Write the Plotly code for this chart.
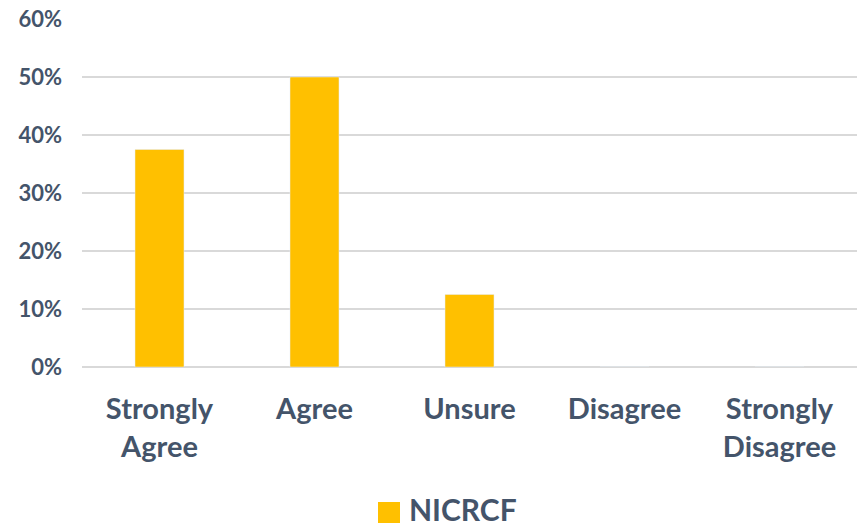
import plotly.graph_objects as go

categories = ["Strongly<br>Agree", "Agree", "Unsure", "Disagree", "Strongly<br>Disagree"]
values = [0.375, 0.50, 0.125, 0.0, 0.0]
series_name = "NICRCF"
y_ticks = [0, 0.1, 0.2, 0.3, 0.4, 0.5, 0.6]

text_color = "#44546A"
bar_color = "#FFC000"
font_family = "Lato, 'Open Sans', sans-serif"

fig = go.Figure()
fig.add_trace(go.Bar(x=categories, y=values, marker_color=bar_color,
                     name=series_name, showlegend=False, hoverinfo="x+y"))

# legend drawn as a square key + label below the plot
fig.add_shape(type="rect", xref="paper", yref="paper",
              x0=(378 - 82) / 775, x1=(400 - 82) / 775,
              y0=(367 - 523) / 348, y1=(367 - 502) / 348,
              fillcolor=bar_color, line=dict(width=0))
fig.add_annotation(text="<b>" + series_name + "</b>", xref="paper", yref="paper",
                   x=(407 - 82) / 775, xanchor="left",
                   y=(367 - 509) / 348, yanchor="middle", showarrow=False,
                   font=dict(size=30, family=font_family, color=text_color))

fig.update_layout(
    width=860, height=528,
    margin=dict(l=82, r=3, t=19, b=161),
    plot_bgcolor="white", paper_bgcolor="white",
    bargap=0.684,
    font=dict(family=font_family, color=text_color),
    showlegend=False,
)
fig.update_xaxes(
    showgrid=False, showline=False, zeroline=False, automargin=False,
    tickfont=dict(size=29, family=font_family, color=text_color, weight="bold"),
    ticklabelstandoff=22,
)
fig.update_yaxes(
    range=[0, 0.6], tickvals=y_ticks, tickformat=".0%", automargin=False,
    showgrid=True, gridcolor="#D9D9D9", gridwidth=1.5,
    zeroline=True, zerolinecolor="#D9D9D9", zerolinewidth=1.5,
    showline=False,
    tickfont=dict(size=22, family=font_family, color=text_color, weight="bold"),
    ticklabelstandoff=19,
)

fig.write_html("out.html", config={"displayModeBar": False},
               post_script="document.body.style.margin='0';document.body.style.overflow='hidden';")
